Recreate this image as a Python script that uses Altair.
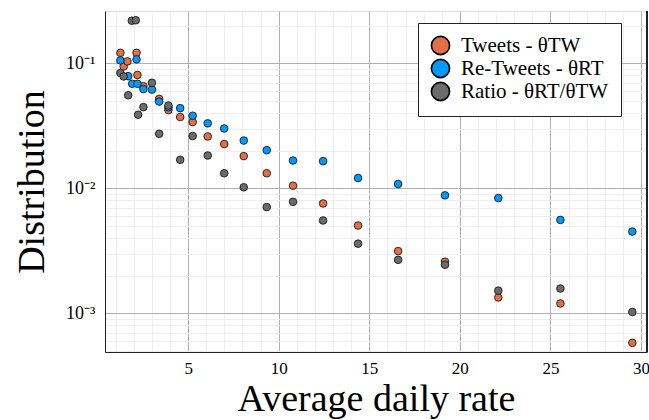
import altair as alt
import pandas as pd

# ---- data ----
tw_x = [1.26, 1.44, 1.65, 2.15, 2.20, 2.53, 3.40, 3.91, 4.56, 5.25, 6.08, 6.99, 8.07, 9.34,
        10.79, 12.45, 14.38, 16.59, 19.18, 22.12, 25.55, 29.52]
tw_y = [0.1213, 0.0944, 0.1036, 0.1213, 0.0807, 0.0656, 0.0519, 0.0422, 0.0372, 0.0339, 0.0260,
        0.0226, 0.0181, 0.0132, 0.0105, 0.00757, 0.00504, 0.00315, 0.00259, 0.00134, 0.00120, 0.000581]

rt_x = [1.26, 1.69, 1.91, 2.15, 2.20, 2.53, 3.00, 3.40, 3.91, 4.56, 5.25, 6.08, 6.99, 8.07, 9.34,
        10.79, 12.45, 14.38, 16.59, 19.18, 22.12, 25.55, 29.52]
rt_y = [0.1055, 0.0789, 0.0686, 0.1075, 0.0686, 0.0622, 0.0616, 0.0494, 0.0445, 0.0438, 0.0381,
        0.0331, 0.0301, 0.0241, 0.0202, 0.0167, 0.0165, 0.0121, 0.01083, 0.00879, 0.00836,
        0.00559, 0.00451]

ra_x = [1.26, 1.44, 1.69, 1.89, 2.11, 2.24, 2.53, 3.00, 3.40, 3.91, 4.56, 5.25, 6.08, 6.99, 8.07,
        9.34, 10.79, 12.45, 14.38, 16.59, 19.18, 22.12, 25.55, 29.52]
ra_y = [0.0837, 0.0785, 0.0555, 0.219, 0.221, 0.0388, 0.0446, 0.0698, 0.0273, 0.0459, 0.0169,
        0.0262, 0.0183, 0.0132, 0.0102, 0.00708, 0.0078, 0.00553, 0.00361, 0.00268, 0.00245,
        0.00152, 0.00158, 0.001026]

series = ["Tweets - θTW", "Re-Tweets - θRT", "Ratio - θRT/θTW"]
colors = ["#E26F46", "#009AFA", "#6B6B6B"]

x_ticks = list(range(1, 31))
y_ticks = [0.0005, 0.0006, 0.0007, 0.0008, 0.0009,
           0.001, 0.002, 0.003, 0.004, 0.005, 0.006, 0.007, 0.008, 0.009,
           0.01, 0.02, 0.03, 0.04, 0.05, 0.06, 0.07, 0.08, 0.09,
           0.1, 0.2]
y_domain = [0.000491, 0.262]
x_domain = [0.41, 30.33]

rows = []
for name, xs, ys in zip(series, [tw_x, rt_x, ra_x], [tw_y, rt_y, ra_y]):
    for xv, yv in zip(xs, ys):
        rows.append({"x": xv, "y": yv, "series": name})
df = pd.DataFrame(rows)
df["idx"] = range(len(df))

FONT = "Liberation Serif"
xscale = alt.Scale(domain=x_domain, nice=False, zero=False)

x_axis = alt.Axis(
    values=x_ticks,
    labelExpr="datum.value % 5 === 0 ? datum.label : ''",
    grid=True,
    gridColor={"condition": {"test": "datum.value % 5 === 0", "value": "#b0b0b0"}, "value": "#eeeeee"},
    gridWidth=1,
    ticks=False,
    domainColor="#222222",
    labelFont=FONT, labelFontSize=17, labelColor="black", labelPadding=8,
    title="Average daily rate", titleFont=FONT, titleFontSize=38, titleFontWeight="normal",
    titleColor="black", titlePadding=4)

points = alt.Chart(df).mark_point(
    filled=True, size=58, stroke="#1a1a1a", strokeWidth=0.9, opacity=1, shape="circle"
).encode(
    x=alt.X("x:Q", scale=xscale, axis=x_axis),
    y=alt.Y("y:Q", scale=alt.Scale(type="log", domain=y_domain, nice=False), axis=alt.Axis(
        values=y_ticks,
        labelExpr="datum.value === 0.1 ? '10⁻¹' : datum.value === 0.01 ? '10⁻²' : datum.value === 0.001 ? '10⁻³' : ''",
        grid=True,
        gridColor={"condition": {"test": "indexof([0.1, 0.01, 0.001], datum.value) >= 0", "value": "#b0b0b0"}, "value": "#eeeeee"},
        gridWidth=1,
        ticks=False,
        domainColor="#222222",
        labelFont=FONT, labelFontSize=18, labelColor="black", labelPadding=10,
        title="Distribution", titleFont=FONT, titleFontSize=38, titleFontWeight="normal",
        titleColor="black", titlePadding=14)),
    color=alt.Color("series:N", scale=alt.Scale(domain=series, range=colors), legend=alt.Legend(
        orient="none", legendX=313, legendY=12, title=None,
        fillColor="white", strokeColor="#222222", padding=12,
        symbolType="circle", symbolSize=330, symbolStrokeColor="black", symbolStrokeWidth=1.6,
        symbolOpacity=1,
        labelFont=FONT, labelFontSize=21, labelColor="black", labelOffset=10, rowPadding=-4)),
    order=alt.Order("idx:Q"),
)

right_edge = alt.Chart(df).mark_rule(color="#222222", strokeWidth=1.2).encode(
    x=alt.X(datum=x_domain[1], type="quantitative", scale=xscale, axis=x_axis)
)

chart = alt.layer(points, right_edge).properties(
    width=542, height=341,
    autosize=alt.AutoSizeParams(type="none"),
    padding={"left": 105, "top": 11, "right": 2, "bottom": 68},
).configure_view(stroke="#cccccc").configure(background="white")

chart.save("out.html", embed_options={"renderer": "svg", "actions": False})
